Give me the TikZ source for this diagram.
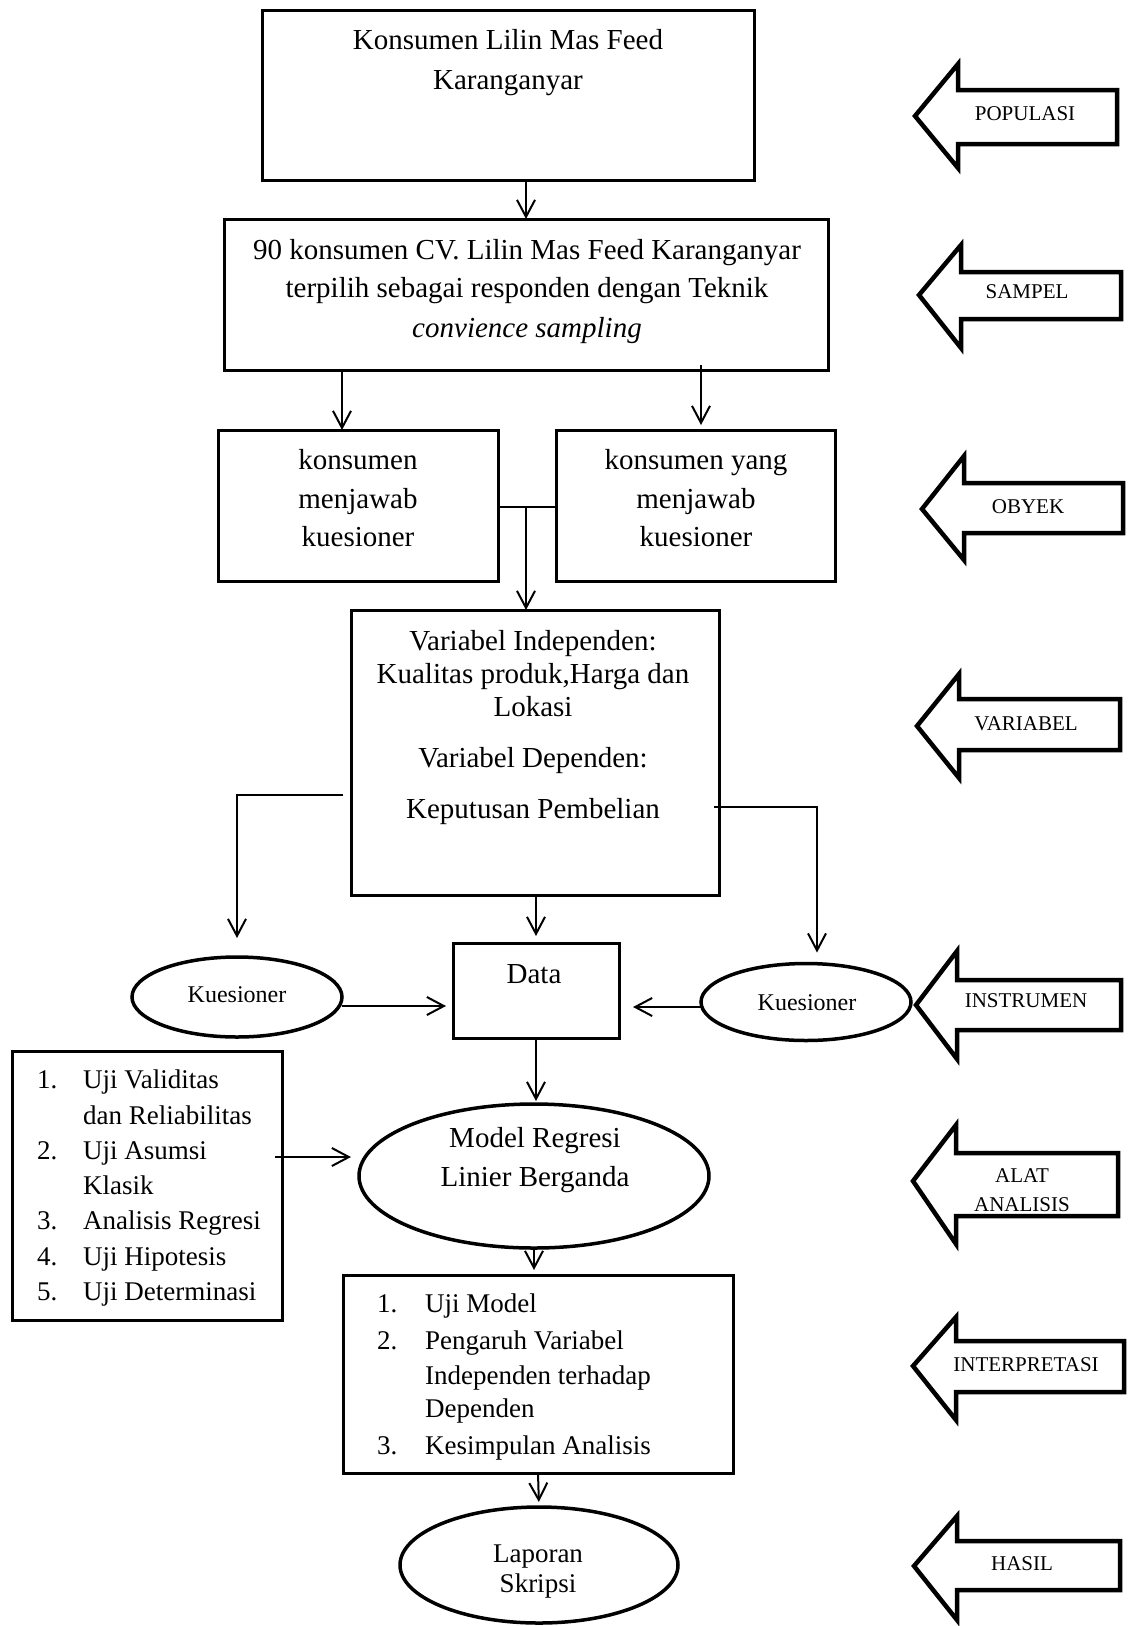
\documentclass[tikz,border=0pt]{standalone}
\usepackage{fontspec}
\setmainfont{Liberation Serif}
\usetikzlibrary{arrows.meta,shapes.geometric}
\newcommand\BlockArrow[8]{\draw[blockline] (#1,#2) -- (#3,#4) -- (#3,#6) -- (#8,#6) -- (#8,#7) -- (#3,#7) -- (#3,#5) -- cycle;}
\begin{document}
\begin{tikzpicture}[x=1pt,y=-1pt,
 box/.style={draw, line width=3pt, rectangle, inner sep=0pt, outer sep=0pt, anchor=north west},
 oval/.style={draw, ellipse, line width=3.5pt, inner sep=0pt, outer sep=0pt},
 conn/.style={draw, line width=2pt, -{Straight Barb[length=17pt,width=18pt]}},
 plain/.style={draw, line width=2pt},
 big/.style={font=\fontsize{29}{35}\selectfont, anchor=base, inner sep=0pt},
 mid/.style={font=\fontsize{27}{33}\selectfont, anchor=base, inner sep=0pt},
 sm/.style={font=\fontsize{24}{29}\selectfont, anchor=base, inner sep=0pt},
 lab/.style={font=\fontsize{21}{25}\selectfont, anchor=base, inner sep=0pt},
 blockline/.style={draw, line width=4.5pt, line join=miter, fill=white}]
\useasboundingbox (0,0) rectangle (1128,1626);

% boxes
\node[box, minimum width=492pt, minimum height=170pt] (box1) at (262,10) {};
\node[box, minimum width=604pt, minimum height=151pt] (box2) at (224,219) {};
\node[box, minimum width=280pt, minimum height=151pt] (box3l) at (218,430) {};
\node[box, minimum width=279pt, minimum height=151pt] (box3r) at (556,430) {};
\node[box, minimum width=368pt, minimum height=285pt] (box4) at (351,610) {};
\node[box, minimum width=166pt, minimum height=95pt] (data) at (453,943) {};
\node[box, minimum width=270pt, minimum height=269pt] (listl) at (12,1051) {};
\node[box, minimum width=390pt, minimum height=198pt] (listb) at (343,1275) {};

% ellipses
\node[oval, minimum width=210pt, minimum height=80pt] (kl) at (237,997) {};
\node[oval, minimum width=210pt, minimum height=77pt] (kr) at (806,1002) {};
\node[oval, minimum width=350pt, minimum height=144pt] (model) at (534,1176) {};
\node[oval, minimum width=278pt, minimum height=116pt] (lap) at (539,1565) {};

% texts
\node[big] (t1a) at (508,49) {Konsumen Lilin Mas Feed};
\node[big] (t1b) at (508,89) {Karanganyar};
\node[big] (t2a) at (527,259) {90 konsumen CV. Lilin Mas Feed Karanganyar};
\node[big] (t2b) at (527,297) {terpilih sebagai responden dengan Teknik};
\node[big] (t2c) at (527,337) {\itshape convience sampling};
\node[big] (t3a) at (358,469) {konsumen};
\node[big] (t3b) at (358,508) {menjawab};
\node[big] (t3c) at (358,546) {kuesioner};
\node[big] (t4a) at (696,469) {konsumen yang};
\node[big] (t4b) at (696,508) {menjawab};
\node[big] (t4c) at (696,546) {kuesioner};
\node[big] (t5a) at (533,650) {Variabel Independen:};
\node[big] (t5b) at (533,683) {Kualitas produk,Harga dan};
\node[big] (t5c) at (533,716) {Lokasi};
\node[big] (t5d) at (533,767) {Variabel Dependen:};
\node[big] (t5e) at (533,818) {Keputusan Pembelian};
\node[big] (t6) at (534,983) {Data};
\node[sm] (t7) at (237,1002) {Kuesioner};
\node[sm] (t8) at (807,1010) {Kuesioner};
\node[big] (t9a) at (535,1147) {Model Regresi};
\node[big] (t9b) at (535,1186) {Linier Berganda};
\node[mid, anchor=base west] (n1) at (37,1088) {1.};
\node[mid, anchor=base west] (l1) at (83,1088) {Uji Validitas};
\node[mid, anchor=base west] (l1b) at (83,1124) {dan Reliabilitas};
\node[mid, anchor=base west] (n2) at (37,1159) {2.};
\node[mid, anchor=base west] (l2) at (83,1159) {Uji Asumsi};
\node[mid, anchor=base west] (l2b) at (83,1194) {Klasik};
\node[mid, anchor=base west] (n3) at (37,1229) {3.};
\node[mid, anchor=base west] (l3) at (83,1229) {Analisis Regresi};
\node[mid, anchor=base west] (n4) at (37,1265) {4.};
\node[mid, anchor=base west] (l4) at (83,1265) {Uji Hipotesis};
\node[mid, anchor=base west] (n5) at (37,1300) {5.};
\node[mid, anchor=base west] (l5) at (83,1300) {Uji Determinasi};
\node[mid, anchor=base west] (m1) at (377,1312) {1.};
\node[mid, anchor=base west] (k1) at (425,1312) {Uji Model};
\node[mid, anchor=base west] (m2) at (377,1349) {2.};
\node[mid, anchor=base west] (k2) at (425,1349) {Pengaruh Variabel};
\node[mid, anchor=base west] (k2b) at (425,1384) {Independen terhadap};
\node[mid, anchor=base west] (k2c) at (425,1417) {Dependen};
\node[mid, anchor=base west] (m3) at (377,1454) {3.};
\node[mid, anchor=base west] (k3) at (425,1454) {Kesimpulan Analisis};
\node[mid] (t10a) at (538,1562) {Laporan};
\node[mid] (t10b) at (538,1592) {Skripsi};

% connectors
\coordinate (c2l) at (342,0);
\coordinate (c2r) at (701,0);
\coordinate (j1) at (526,507);
\coordinate (lk) at (240,795);
\coordinate (rk) at (817,807);
\coordinate (ml) at (0,1157);
\draw[conn] (box1.south -| box2.north) -- (box2.north);
\draw[conn] (box2.south -| c2l) -- (box3l.north -| c2l);
\draw[conn, shorten >=5pt] ([yshift=5pt]box2.south -| c2r) -- (box3r.north -| c2r);
\draw[plain] (box3l.east |- j1) -- (box3r.west |- j1);
\draw[conn] (j1) -- (box4.north -| j1);
\draw[conn, shorten >=19pt] ([xshift=-8pt]box4.west |- lk) -| (kl.north);
\draw[conn, shorten >=11pt] ([xshift=-5pt]box4.east |- rk) -- (rk) -- (rk |- kr.north);
\draw[conn, shorten >=7pt] (box4.south -| data.north) -- (data.north);
\draw[conn, shorten >=7pt] ([yshift=-9pt]kl.east) -- ([yshift=-9pt]kl.east -| data.west);
\draw[conn, shorten >=14pt] ([yshift=-5pt]kr.west) -- ([yshift=-5pt]kr.west -| data.east);
\draw[conn, shorten >=3pt] (data.south) -- (model.north -| data.south);
\draw[conn, shorten >=8pt] ([xshift=-7pt]listl.east |- ml) -- (model.west |- ml);
\draw[conn, shorten >=5pt] (model.south) -- (listb.north -| model.south);
\draw[conn, shorten >=5pt] (listb.south) -- (lap.north);

% block arrows on the right
\BlockArrow{915}{116}{958}{64}{168}{90}{144}{1117}
\BlockArrow{919}{295}{961}{245}{348}{272}{319}{1121}
\BlockArrow{922}{509}{964}{456}{560}{483}{533}{1123}
\BlockArrow{917}{726}{959}{674}{778}{699}{750}{1120}
\BlockArrow{916}{1005}{957}{951}{1059}{980}{1030}{1121}
\BlockArrow{913}{1181}{956}{1125}{1244}{1153}{1216}{1118}
\BlockArrow{913}{1366}{956}{1317}{1420}{1341}{1392}{1124}
\BlockArrow{914}{1566}{957}{1516}{1620}{1541}{1590}{1120}
\node[lab] (a1) at (1025,120) {POPULASI};
\node[lab] (a2) at (1027,298) {SAMPEL};
\node[lab] (a3) at (1028,513) {OBYEK};
\node[lab] (a4) at (1026,730) {VARIABEL};
\node[lab] (a5) at (1026,1007) {INSTRUMEN};
\node[lab] (a6a) at (1022,1182) {ALAT};
\node[lab] (a6b) at (1022,1211) {ANALISIS};
\node[lab] (a7) at (1026,1371) {INTERPRETASI};
\node[lab] (a8) at (1022,1570) {HASIL};
\end{tikzpicture}
\end{document}
